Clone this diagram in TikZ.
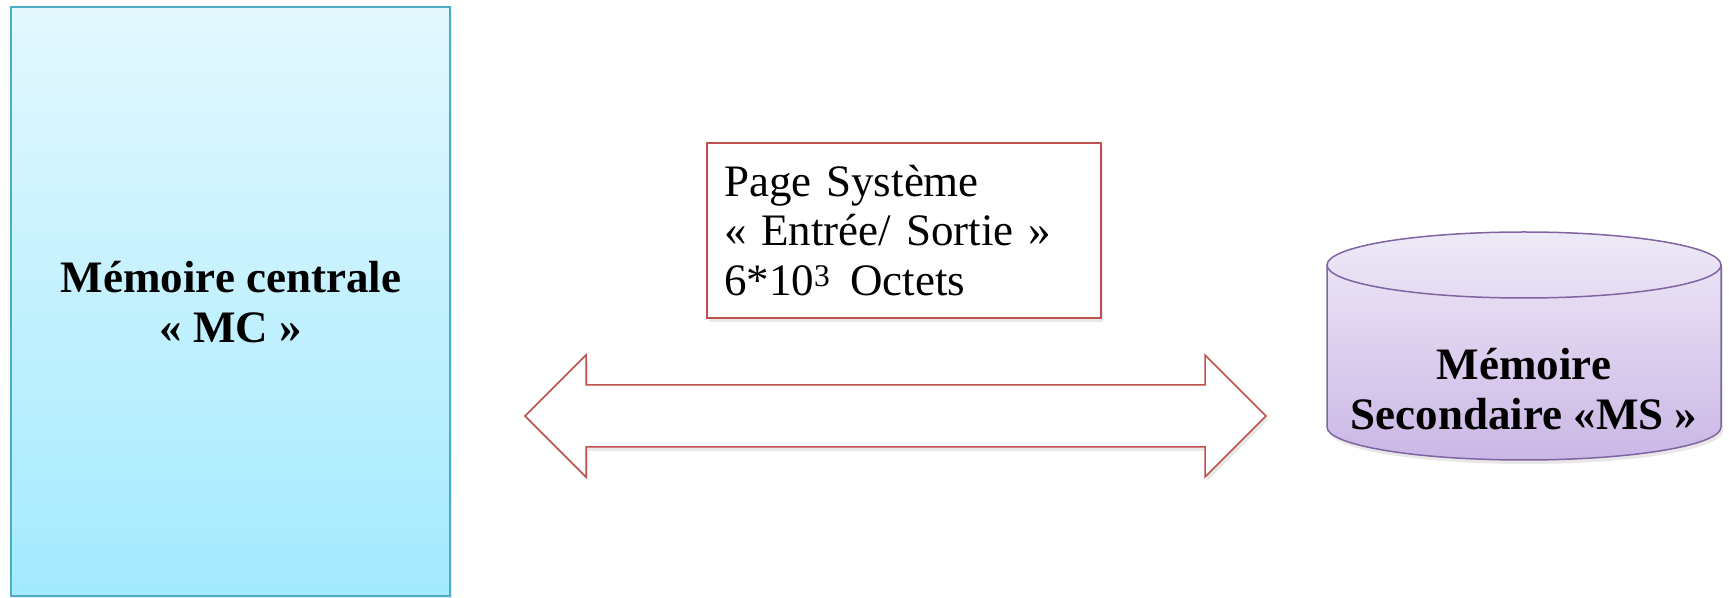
\documentclass[tikz,border=0pt]{standalone}
\usepackage{fontspec}
\setmainfont{Liberation Serif}
\usetikzlibrary{shadows}
\definecolor{mcborder}{HTML}{4BACC6}
\definecolor{mctop}{HTML}{E4F8FE}
\definecolor{mcbot}{HTML}{A3EAFE}
\definecolor{redline}{HTML}{C0504D}
\definecolor{msborder}{HTML}{8064A2}
\definecolor{mstop}{HTML}{EFEAF7}
\definecolor{msbot}{HTML}{CAB7E6}
\tikzset{
  softshadow/.style={drop shadow={opacity=0.18, shadow xshift=2pt, shadow yshift=-4pt}},
  mcbox/.style={draw=mcborder, line width=2pt, top color=mctop, bottom color=mcbot,
    minimum width=439pt, minimum height=589pt, inner sep=0pt, softshadow},
  pagebox/.style={draw=redline, line width=1.5pt, fill=white, minimum width=394pt,
    minimum height=175pt, text width=360pt, inner xsep=17pt, align=left, softshadow},
  bigtext/.style={font=\fontsize{45}{50}\selectfont\bfseries, align=center},
  arrowline/.style={draw=redline, line width=1.5pt, fill=white, line join=miter},
  cylline/.style={draw=msborder, line width=1.5pt}
}
\begin{document}
\begin{tikzpicture}[x=1pt,y=1pt]
\useasboundingbox (0,0) rectangle (1729,597);
% Memoire centrale
\node[mcbox] (mc) at (230.5,295.5) {};
\node[bigtext] (mctext) at (231,295) {Mémoire centrale\\« MC »};
% page box
\node[pagebox, font=\fontsize{45}{49.5}\selectfont] (page) at (904,366.5)
  {Page Système\\« Entrée/ Sortie »\\6*10\textsuperscript{3}\hspace{0.45em}Octets};
% double block arrow
\coordinate (ltip) at (525,181);
\coordinate (rtip) at (1266,181);
\draw[arrowline, softshadow] (ltip) -- (586,242) -- (586,212) -- (1205,212) -- (1205,242)
  -- (rtip) -- (1205,120) -- (1205,150) -- (586,150) -- (586,120) -- cycle;
% cylinder
\path[softshadow, top color=mstop, bottom color=msbot]
  (1327,332) -- (1327,170) arc[start angle=180, end angle=360, x radius=197pt, y radius=33pt]
  -- (1721,332) arc[start angle=0, end angle=180, x radius=197pt, y radius=33pt] -- cycle;
\draw[cylline]
  (1327,332) -- (1327,170) arc[start angle=180, end angle=360, x radius=197pt, y radius=33pt]
  -- (1721,332);
\draw[cylline, top color=mstop, bottom color=mstop!70!msbot] (1524,332) ellipse[x radius=197pt, y radius=33pt];
\node[bigtext] (ms) at (1524,208) {Mémoire\\Secondaire «MS »};
\end{tikzpicture}
\end{document}
